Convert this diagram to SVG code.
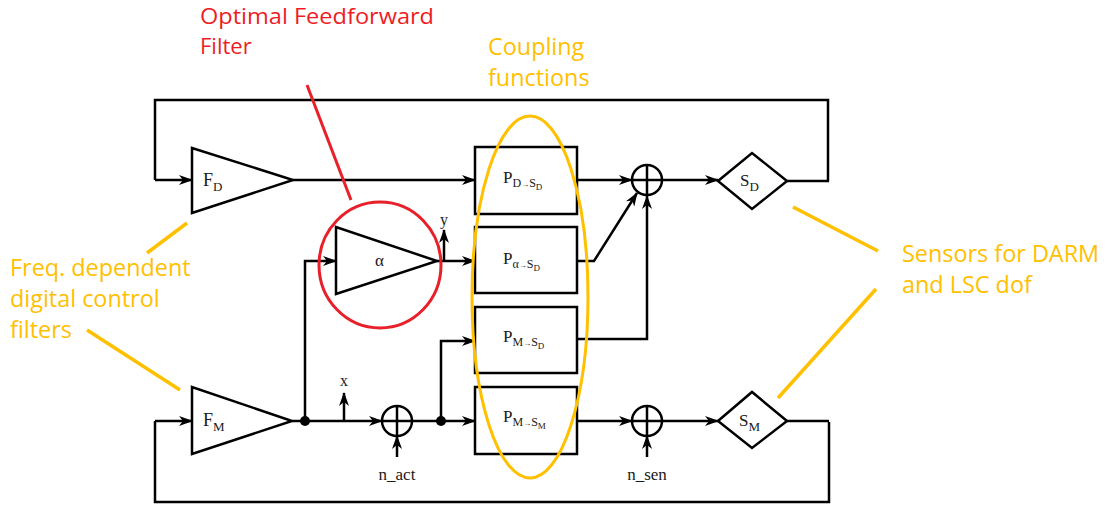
<svg xmlns="http://www.w3.org/2000/svg" width="1109" height="508" viewBox="0 0 1109 508">
<defs>
<marker id="ah" markerWidth="14" markerHeight="10" refX="13" refY="5" orient="auto" markerUnits="userSpaceOnUse">
<path d="M0,0 L14,5 L0,10 L4,5 z" fill="#000"/>
</marker>
<style>
.w{fill:none;stroke:#000;stroke-width:2.5}
.a{fill:none;stroke:#000;stroke-width:2.5;marker-end:url(#ah)}
.b{fill:#fff;stroke:#000;stroke-width:2.5}
.t{font-family:"Liberation Serif",serif;fill:#1a1a1a}
.ann{font-family:"Open Sans",Lato,sans-serif;font-size:23.4px}
.yl{fill:#ffc000}
.rd{fill:#ee1c25}
</style>
</defs>
<rect width="1109" height="508" fill="#fff"/>
<g id="connectors">
<polyline class="w" points="828,181 828,100 155,100 155,180"/>
<line class="a" x1="155" y1="180" x2="192" y2="180"/>
<line class="a" x1="293" y1="180" x2="475" y2="180"/>
<line class="a" x1="577" y1="180" x2="632" y2="180"/>
<polyline class="a" points="577,261 594,261 637,193"/>
<polyline class="a" points="577,339 647,339 647,196"/>
<line class="a" x1="662" y1="180" x2="718" y2="180"/>
<line class="w" x1="787" y1="181" x2="829" y2="181"/>
<polyline class="a" points="305,421 305,261 336,261"/>
<line class="a" x1="437" y1="261" x2="475" y2="261"/>
<line class="a" x1="444" y1="261" x2="444" y2="230"/>
<polyline class="w" points="829,422 829,502 155,502 155,421"/>
<line class="a" x1="155" y1="421" x2="192" y2="421"/>
<line class="w" x1="292" y1="421" x2="305" y2="421"/>
<line class="a" x1="305" y1="421" x2="382" y2="421"/>
<line class="a" x1="344" y1="421" x2="344" y2="393"/>
<line class="a" x1="397" y1="457" x2="397" y2="436"/>
<line class="w" x1="412" y1="421" x2="441" y2="421"/>
<line class="a" x1="441" y1="421" x2="475" y2="421"/>
<polyline class="a" points="441,421 441,341 475,341"/>
<line class="a" x1="577" y1="421" x2="632" y2="421"/>
<line class="a" x1="647" y1="457" x2="647" y2="436"/>
<line class="a" x1="662" y1="421" x2="718" y2="421"/>
<line class="w" x1="787" y1="421" x2="829" y2="421"/>
<circle cx="305" cy="421" r="5" fill="#000"/>
<circle cx="441" cy="421" r="5" fill="#000"/>
</g>
<g id="FD">
<polygon class="b" points="192,148 192,213 293,180"/>
<text class="t" x="203" y="186" font-size="18">F<tspan font-size="13" dy="5">D</tspan></text>
</g>
<g id="FM">
<polygon class="b" points="192,387 192,454 292,421"/>
<text class="t" x="203" y="426" font-size="18">F<tspan font-size="13" dy="5">M</tspan></text>
</g>
<g id="alpha">
<polygon class="b" points="336,227 336,294 437,261"/>
<text class="t" x="375" y="266" font-size="17">α</text>
</g>
<g id="PDSD">
<rect class="b" x="475" y="147" width="102" height="67"/>
<text class="t" x="503" y="183" font-size="17">P<tspan font-size="12" dy="4">D</tspan><tspan font-size="8">→</tspan><tspan font-size="12">S</tspan><tspan font-size="9" dy="3">D</tspan></text>
</g>
<g id="PaSD">
<rect class="b" x="475" y="227" width="102" height="66"/>
<text class="t" x="503" y="264" font-size="17">P<tspan font-size="12" dy="4">α</tspan><tspan font-size="8">→</tspan><tspan font-size="12">S</tspan><tspan font-size="9" dy="3">D</tspan></text>
</g>
<g id="PMSD">
<rect class="b" x="475" y="307" width="102" height="66"/>
<text class="t" x="503" y="342" font-size="17">P<tspan font-size="12" dy="4">M</tspan><tspan font-size="8">→</tspan><tspan font-size="12">S</tspan><tspan font-size="9" dy="3">D</tspan></text>
</g>
<g id="PMSM">
<rect class="b" x="475" y="387" width="102" height="67"/>
<text class="t" x="503" y="422" font-size="17">P<tspan font-size="12" dy="4">M</tspan><tspan font-size="8">→</tspan><tspan font-size="12">S</tspan><tspan font-size="9" dy="3">M</tspan></text>
</g>
<g id="sumD">
<circle class="b" cx="647" cy="180" r="15"/>
<line class="w" x1="632" y1="180" x2="662" y2="180"/>
<line class="w" x1="647" y1="165" x2="647" y2="195"/>
</g>
<g id="sumAct">
<circle class="b" cx="397" cy="421" r="15"/>
<line class="w" x1="382" y1="421" x2="412" y2="421"/>
<line class="w" x1="397" y1="406" x2="397" y2="436"/>
</g>
<g id="sumSen">
<circle class="b" cx="647" cy="421" r="15"/>
<line class="w" x1="632" y1="421" x2="662" y2="421"/>
<line class="w" x1="647" y1="406" x2="647" y2="436"/>
</g>
<g id="SD">
<polygon class="b" points="718,181 752,153 787,181 752,209"/>
<text class="t" x="740" y="186" font-size="17">S<tspan font-size="13" dy="5">D</tspan></text>
</g>
<g id="SM">
<polygon class="b" points="718,421 752,392 787,421 752,448"/>
<text class="t" x="739" y="426" font-size="17">S<tspan font-size="13" dy="5">M</tspan></text>
</g>
<g id="labels">
<text class="t" x="444" y="225" font-size="16" text-anchor="middle">y</text>
<text class="t" x="344" y="386" font-size="16" text-anchor="middle">x</text>
<text class="t" x="397" y="480" font-size="17" text-anchor="middle">n_act</text>
<text class="t" x="647" y="480" font-size="17" text-anchor="middle">n_sen</text>
</g>
<g id="annotations">
<ellipse cx="530" cy="297" rx="58" ry="181" fill="none" stroke="#ffc000" stroke-width="3"/>
<ellipse cx="380" cy="265" rx="61" ry="63" fill="none" stroke="#e8202a" stroke-width="3"/>
<line x1="307" y1="85" x2="351" y2="200" stroke="#e8202a" stroke-width="3"/>
<line x1="187" y1="223" x2="147" y2="253" stroke="#ffc000" stroke-width="3.5"/>
<line x1="87" y1="330" x2="180" y2="390" stroke="#ffc000" stroke-width="3.5"/>
<line x1="793" y1="207" x2="878" y2="251" stroke="#ffc000" stroke-width="3.5"/>
<line x1="876" y1="289" x2="778" y2="398" stroke="#ffc000" stroke-width="3.5"/>
<text class="ann rd" x="200" y="24" style="font-size:22px" textLength="234" lengthAdjust="spacingAndGlyphs">Optimal Feedforward</text>
<text class="ann rd" x="200" y="54" style="font-size:22px">Filter</text>
<text class="ann yl" x="488" y="55">Coupling</text>
<text class="ann yl" x="488" y="86">functions</text>
<text class="ann yl" x="10" y="276">Freq. dependent</text>
<text class="ann yl" x="10" y="307">digital control</text>
<text class="ann yl" x="10" y="338">filters</text>
<text class="ann yl" x="902" y="262">Sensors for DARM</text>
<text class="ann yl" x="902" y="293">and LSC dof</text>
</g>
</svg>
